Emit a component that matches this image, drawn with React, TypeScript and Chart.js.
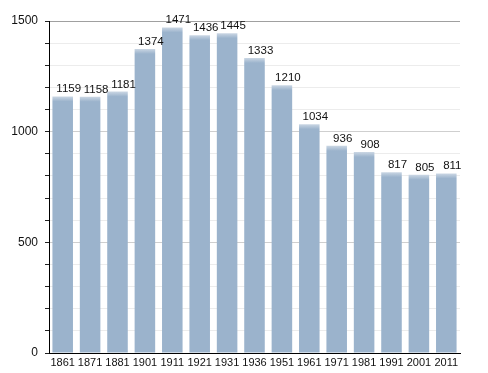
import React, { useEffect, useRef } from "react";
import { Chart, registerables } from "chart.js";

Chart.register(...registerables);

const years = ["1861", "1871", "1881", "1901", "1911", "1921", "1931", "1936", "1951", "1961", "1971", "1981", "1991", "2001", "2011"];
const population = [1159, 1158, 1181, 1374, 1471, 1436, 1445, 1333, 1210, 1034, 936, 908, 817, 805, 811];
const yMax = 1500;
const yStep = 100;
const yLabelEvery = 500;

const FONT = "'Liberation Sans Narrow', 'Liberation Sans', Arial, sans-serif";

const valueLabels = {
  id: "valueLabels",
  afterDatasetsDraw(chart: any) {
    const ctx = chart.ctx;
    const meta = chart.getDatasetMeta(0);
    ctx.save();
    ctx.font = `11.5px ${FONT}`;
    ctx.fillStyle = "#111";
    ctx.textAlign = "center";
    ctx.textBaseline = "alphabetic";
    meta.data.forEach((el: any, i: number) => {
      ctx.fillText(String(population[i]), el.x + 6, el.y - 4);
    });
    ctx.restore();
  },
};

export default function App() {
  const ref = useRef<HTMLCanvasElement | null>(null);
  useEffect(() => {
    document.body.style.margin = "0";
    const canvas = ref.current!;
    const ctx0 = canvas.getContext("2d")!;
    const chart = new Chart(canvas, {
      type: "bar",
      data: {
        labels: years,
        datasets: [
          {
            data: population,
            backgroundColor: (c: any) => {
              const ys = c.chart.scales?.y;
              if (!ys || !c.chart.chartArea || typeof c.raw !== "number") return "#9bb3cc";
              const top = ys.getPixelForValue(c.raw);
              if (!isFinite(top)) return "#9bb3cc";
              const g = ctx0.createLinearGradient(0, top, 0, top + 5);
              g.addColorStop(0, "#cbd7e4");
              g.addColorStop(1, "#9bb3cc");
              return g;
            },
            borderWidth: 0,
            barPercentage: 0.75,
            categoryPercentage: 1,
          },
        ],
      },
      options: {
        animation: false,
        responsive: false,
        maintainAspectRatio: false,
        layout: { padding: { top: 21, right: 28, left: 0, bottom: 0 } },
        plugins: { legend: { display: false }, tooltip: { enabled: false } },
        scales: {
          x: {
            afterFit: (s: any) => {
              s.height = 20;
            },
            grid: { display: false, drawTicks: false },
            border: { display: true, color: "#000", width: 1 },
            ticks: { color: "#111", font: { family: FONT, size: 11 }, padding: 3, maxRotation: 0, autoSkip: false },
          },
          y: {
            min: 0,
            max: yMax,
            afterFit: (s: any) => {
              s.width = 49;
            },
            border: { display: true, color: "#000", width: 1 },
            grid: {
              color: (c: any) => {
                const v = c.tick?.value;
                if (v === yMax) return "#a0a0a0";
                if (v % yLabelEvery === 0) return "#cfcfcf";
                return "#ececec";
              },
              tickColor: "#222",
              tickLength: 4,
            },
            ticks: {
              stepSize: yStep,
              color: "#111",
              font: { family: FONT, size: 12 },
              padding: 7,
              callback: (v: any) => (Number(v) % yLabelEvery === 0 ? String(v) : ""),
            },
          },
        },
      },
      plugins: [valueLabels],
    } as any);
    return () => chart.destroy();
  }, []);
  return (
    <div style={{ position: "absolute", left: 0, top: 0, width: 488, height: 373, background: "#fff" }}>
      <canvas ref={ref} width={488} height={373} />
    </div>
  );
}
